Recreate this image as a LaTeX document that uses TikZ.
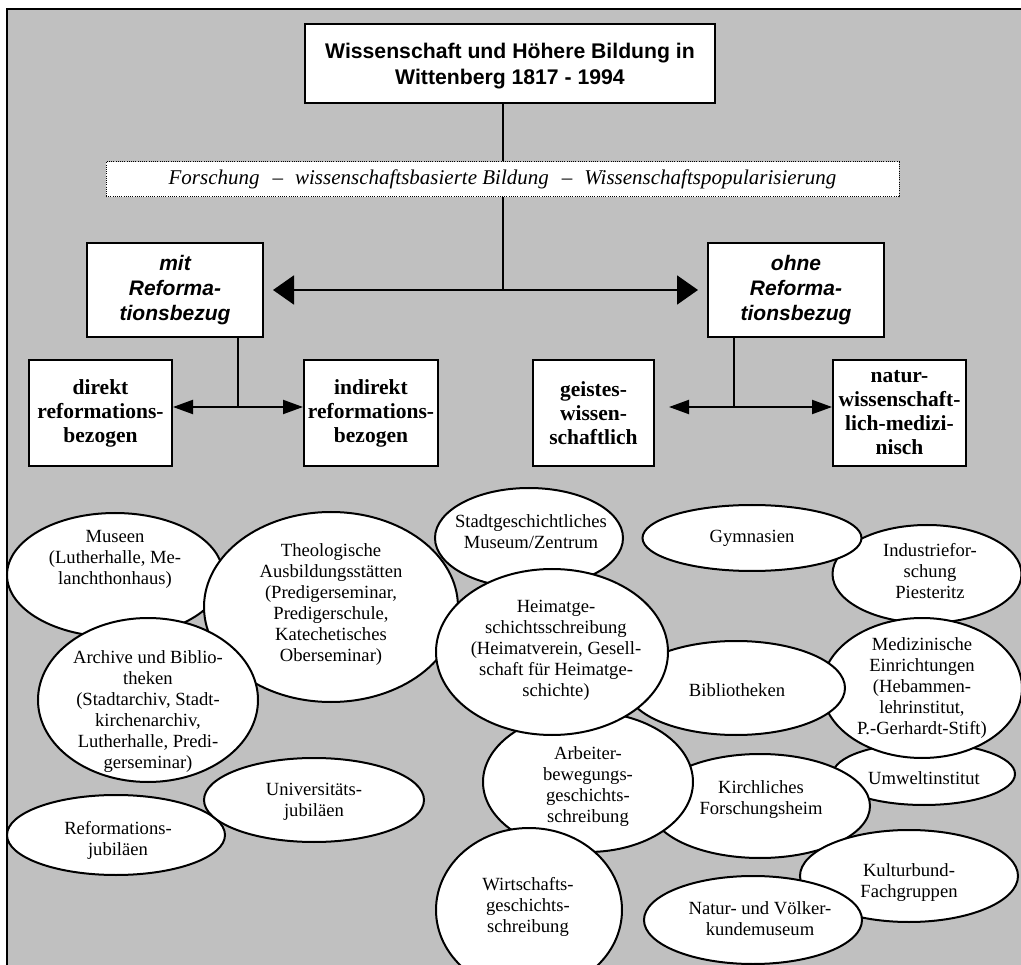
\documentclass[tikz,border=0pt]{standalone}
\usepackage{fontspec}
\setmainfont{Liberation Serif}
\setsansfont{Liberation Sans}
\usetikzlibrary{shapes.geometric,arrows.meta}
\definecolor{silver}{RGB}{192,192,192}

\begin{document}
\begin{tikzpicture}
    [x=1pt,y=-1pt,line width=2pt,
     box/.style={draw,fill=white,inner sep=2pt,align=center,font=\bfseries\fontsize{21.5}{24}\selectfont},
     hbox/.style={draw,fill=white,inner sep=2pt,align=center,font=\sffamily\bfseries\itshape\fontsize{21}{25}\selectfont},
     blob/.style={ellipse,draw,fill=white,inner sep=0pt},
     blobtext/.style={align=center,inner sep=0pt,font=\fontsize{18.6}{21}\selectfont},
     bigtip/.style={-{Triangle[length=21pt,width=29pt]}},
     tip/.style={-{Triangle[length=20pt,width=14pt]}}]
    \useasboundingbox (0,0) rectangle (1021,965);
    \clip (0,0) rectangle (1021,965);
    \draw[fill=silver] (7,9) rectangle (1040,990);

    \node[box,font=\sffamily\bfseries\fontsize{21.2}{26}\selectfont,minimum width=410pt,minimum height=79pt,text depth=0pt] (title) at (510,63.5) {Wissenschaft und Höhere Bildung in\\Wittenberg 1817 - 1994};
    \node[draw,dash pattern=on 1pt off 1.2pt,line width=1pt,fill=white,minimum width=793pt,minimum height=35pt,inner sep=0pt,font=\itshape\fontsize{21}{22}\selectfont] (forsch) at (502.5,179.5) {Forschung\hspace{13pt}--\hspace{12pt}wissenschaftsbasierte Bildung\hspace{13pt}--\hspace{12pt}Wissenschaftspopularisierung};
    \node[hbox,minimum width=176pt,minimum height=94pt] (mit) at (175,290) {mit\\Reforma-\\tionsbezug};
    \node[hbox,minimum width=176pt,minimum height=94pt] (ohne) at (796,290) {ohne\\Reforma-\\tionsbezug};
    \node[box,minimum width=143pt,minimum height=106pt] (direkt) at (100.5,413) {direkt\\reformations-\\bezogen};
    \node[box,minimum width=134pt,minimum height=106pt] (indirekt) at (371,413) {indirekt\\reformations-\\bezogen};
    \node[box,minimum width=121pt,minimum height=106pt] (geist) at (593.5,413) {geistes-\\wissen-\\schaftlich};
    \node[box,minimum width=133pt,minimum height=106pt] (natur) at (899.5,413) {natur-\\wissenschaft-\\lich-medizi-\\nisch};

    \coordinate (fork) at (forsch.south |- mit.east);
    \coordinate (mfork) at (238,407);
    \coordinate (ofork) at (734,407);
    \draw (forsch.north) -- (forsch.north |- title.south);
    \draw (forsch.south) -- (fork);
    \draw[bigtip,shorten >=9pt] (fork) -- (mit.east);
    \draw[bigtip,shorten >=9pt] (fork) -- (ohne.west);
    \draw (mfork) -- (mfork |- mit.south);
    \draw[tip] (mfork) -- (mfork -| direkt.east);
    \draw[tip] (mfork) -- (mfork -| indirekt.west);
    \draw (ofork) -- (ofork |- ohne.south);
    \draw[tip,shorten >=14pt] (ofork) -- (ofork -| geist.east);
    \draw[tip] (ofork) -- (ofork -| natur.west);

    % ellipses, back to front
    \node[blob,minimum width=216pt,minimum height=124pt] (museen) at (115,575) {};
    \node[blobtext] (museen-t) at (115,559) {Museen\\(Lutherhalle, Me-\\lanchthonhaus)};
    \node[blob,minimum width=254pt,minimum height=190pt] (theol) at (331,607) {};
    \node[blobtext] (theol-t) at (331,605) {Theologische\\Ausbildungsstätten\\(Predigerseminar,\\Predigerschule,\\Katechetisches\\Oberseminar)};
    \node[blob,minimum width=220pt,minimum height=164pt] (archiv) at (148,700) {};
    \node[blobtext] (archiv-t) at (148,712) {Archive und Biblio-\\theken\\(Stadtarchiv, Stadt-\\kirchenarchiv,\\Lutherhalle, Predi-\\gerseminar)};
    \node[blob,minimum width=218pt,minimum height=80pt] (reform) at (116,835) {};
    \node[blobtext] (reform-t) at (118,840) {Reformations-\\jubiläen};
    \node[blob,minimum width=220pt,minimum height=84pt] (univ) at (314,800) {};
    \node[blobtext] (univ-t) at (314,802) {Universitäts-\\jubiläen};
    \node[blob,minimum width=188pt,minimum height=100pt] (stadt) at (529,538) {};
    \node[blobtext] (stadt-t) at (531,532) {Stadtgeschichtliches\\Museum/Zentrum};
    \node[blob,minimum width=189pt,minimum height=98pt] (indus) at (927,574) {};
    \node[blobtext] (indus-t) at (930,571) {Industriefor-\\schung\\Piesteritz};
    \node[blob,minimum width=219pt,minimum height=66pt] (gymn) at (752,538) {};
    \node[blobtext] (gymn-t) at (752,538) {Gymnasien};
    \node[blob,minimum width=182pt,minimum height=62pt] (umwelt) at (924,774) {};
    \node[blobtext] (umwelt-t) at (924,778) {Umweltinstitut};
    \node[blob,minimum width=220pt,minimum height=104pt] (kirch) at (760,806) {};
    \node[blobtext] (kirch-t) at (761,800) {Kirchliches\\Forschungsheim};
    \node[blob,minimum width=200pt,minimum height=140pt] (medizin) at (922,688) {};
    \node[blobtext] (medizin-t) at (922,688) {Medizinische\\Einrichtungen\\(Hebammen-\\lehrinstitut,\\P.-Gerhardt-Stift)};
    \node[blob,minimum width=218pt,minimum height=94pt] (biblio) at (736,688) {};
    \node[blobtext] (biblio-t) at (737,690) {Bibliotheken};
    \node[blob,minimum width=210pt,minimum height=140pt] (arbeit) at (588,782) {};
    \node[blobtext] (arbeit-t) at (588,787) {Arbeiter-\\bewegungs-\\geschichts-\\schreibung};
    \node[blob,minimum width=232pt,minimum height=166pt] (heimat) at (552,652) {};
    \node[blobtext] (heimat-t) at (556,650) {Heimatge-\\schichtsschreibung\\(Heimatverein, Gesell-\\schaft für Heimatge-\\schichte)};
    \node[blob,minimum width=186pt,minimum height=164pt] (wirtsch) at (529,910) {};
    \node[blobtext] (wirtsch-t) at (528,907) {Wirtschafts-\\geschichts-\\schreibung};
    \node[blob,minimum width=218pt,minimum height=92pt] (kultur) at (909,876) {};
    \node[blobtext] (kultur-t) at (909,883) {Kulturbund-\\Fachgruppen};
    \node[blob,minimum width=218pt,minimum height=88pt] (voelker) at (753,920) {};
    \node[blobtext] (voelker-t) at (760,919) {Natur- und Völker-\\kundemuseum};
\end{tikzpicture}
\end{document}
